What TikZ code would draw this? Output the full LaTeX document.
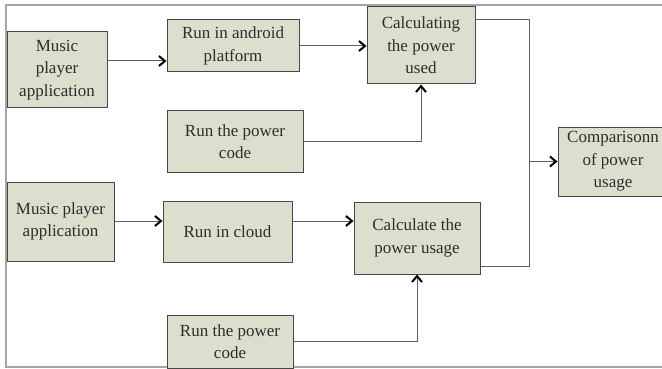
\documentclass[tikz,border=0pt]{standalone}
\usepackage{fontspec}
\setmainfont{Liberation Serif}
\usetikzlibrary{arrows.meta}
\definecolor{boxfill}{RGB}{221,223,206}
\definecolor{boxline}{RGB}{70,70,70}
\definecolor{conn}{RGB}{95,95,95}
\definecolor{frame}{RGB}{165,165,165}
\definecolor{txt}{RGB}{45,45,45}
\tikzset{
  blk/.style={draw=boxline, line width=1pt, fill=boxfill, align=center, inner sep=0pt,
    text=txt, font=\fontsize{17}{22.5}\selectfont},
  conline/.style={draw=conn, line width=1pt},
  arr/.style={conline, -{Straight Barb[length=6pt,width=10pt,line width=2pt,color=black]}}
}
\begin{document}
\begin{tikzpicture}[x=1pt,y=-1pt]
\useasboundingbox (0,0) rectangle (662,369);
\draw[frame, line width=2pt] (664,5) -- (6,5) -- (6,367) -- (664,367);

\node[blk, minimum width=100pt, minimum height=76pt] (m1) at (57,70) {Music\\player\\application};
\node[blk, minimum width=132pt, minimum height=52pt] (and) at (233,46) {Run in android\\platform};
\node[blk, minimum width=136pt, minimum height=61pt] (p1) at (235,141.5) {Run the power\\code};
\node[blk, minimum width=108pt, minimum height=77pt] (cu) at (421,45.5) {Calculating\\the power\\used};
\node[blk, minimum width=110pt, minimum height=69pt] (cmp) at (613,161.5) {Comparisonn\\of power\\usage};
\node[blk, minimum width=107pt, minimum height=79pt] (m2) at (60.5,221.5) {Music player\\application};
\node[blk, minimum width=129pt, minimum height=61pt] (cl) at (227.5,231.5) {Run in cloud};
\node[blk, minimum width=126pt, minimum height=72pt] (cs) at (417,238) {Calculate the\\power usage};
\node[blk, minimum width=126pt, minimum height=53pt] (p2) at (230,341.5) {Run the power\\code};

\coordinate (j1) at (529,20);
\coordinate (j2) at (529,266);
\coordinate (jm) at (529,161.5);

\draw[arr] (m1.east |- 0,61) -- (and.west |- 0,61);
\draw[arr] (and.east |- 0,46) -- (cu.west |- 0,46);
\draw[arr] (p1.east |- 0,141) -| (cu.south);
\draw[conline] (cu.east |- j1) -- (j1) -- (j2) -- (cs.east |- j2);
\draw[arr] (jm) -- (cmp.west);
\draw[arr] (m2.east |- 0,221) -- (cl.west |- 0,221);
\draw[arr] (cl.east |- 0,221) -- (cs.west |- 0,221);
\draw[arr] (p2.east |- 0,341) -| (cs.south);
\end{tikzpicture}
\end{document}
